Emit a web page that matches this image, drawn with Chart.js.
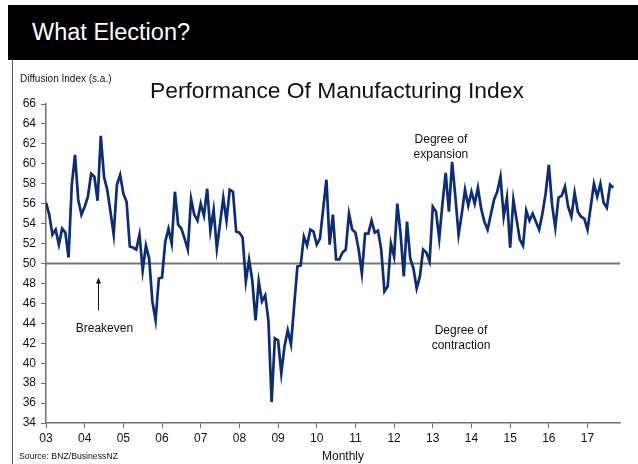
<!DOCTYPE html>
<html>
<head>
<meta charset="utf-8">
<script src="https://cdn.jsdelivr.net/npm/chart.js@4.4.1/dist/chart.umd.min.js"></script>
<style>
  html, body { margin: 0; padding: 0; background: #fff; }
  #wrap { position: relative; width: 638px; height: 464px; overflow: hidden; font-family: "Liberation Sans", Arial, sans-serif; }
  #band { position: absolute; left: 8px; top: 5px; width: 630px; height: 55px; background: #000; }
  #band span { position: absolute; left: 24px; top: 14px; color: #fff; font-size: 23.5px; }
  #frame { position: absolute; left: 12px; top: 60px; width: 1px; height: 404px; background: #555; }
  #unit { position: absolute; left: 20px; top: 73px; font-size: 10px; color: #111; }
  #title { position: absolute; left: 150px; top: 77px; font-size: 22.8px; color: #111; }
  #source { position: absolute; left: 19px; top: 451px; font-size: 8.7px; color: #111; }
  #monthly { position: absolute; left: 322px; top: 449px; font-size: 12px; color: #111; }
  canvas { position: absolute; left: 0; top: 0; }
</style>
</head>
<body>
<div id="wrap">
  <div id="band"><span>What Election?</span></div>
  <div id="frame"></div>
  <canvas id="pmi" width="638" height="464"></canvas>
  <div id="unit">Diffusion Index (s.a.)</div>
  <div id="title">Performance Of Manufacturing Index</div>
  <div id="source">Source: BNZ/BusinessNZ</div>
  <div id="monthly">Monthly</div>
</div>
<script>
/* Performance Of Manufacturing Index, monthly from Jan 2003 */
const START_YEAR = 2003;
const yearTicks = [2003, 2004, 2005, 2006, 2007, 2008, 2009, 2010, 2011, 2012, 2013, 2014, 2015, 2016, 2017];
const yearLabels = ["03", "04", "05", "06", "07", "08", "09", "10", "11", "12", "13", "14", "15", "16", "17"];
const pmiValues = [
  56.1, 54.9, 52.9, 53.4, 51.9, 53.5, 53.1, 50.6, 57.9, 60.9, 56.4, 54.9,
  55.7, 56.7, 59.0, 58.7, 56.3, 62.8, 58.7, 57.4, 55.2, 52.9, 57.9, 58.9,
  57.0, 56.2, 51.7, 51.6, 51.4, 52.9, 49.3, 51.8, 50.5, 46.2, 44.3, 48.5,
  48.6, 52.2, 53.5, 52.0, 57.2, 53.9, 53.5, 52.5, 51.4, 56.5, 54.9, 54.3,
  56.0, 54.8, 57.5, 53.3, 55.4, 51.5, 54.0, 56.6, 54.3, 57.4, 57.2, 53.2,
  53.1, 52.6, 48.2, 50.4, 48.3, 44.3, 48.2, 46.2, 46.8, 44.3, 36.1, 42.5,
  42.3, 39.0, 41.7, 43.3, 41.9, 45.8, 49.7, 49.8, 52.7, 51.8, 53.4, 53.2,
  51.9, 52.5, 55.5, 58.4, 51.9, 54.9, 50.4, 50.4, 51.1, 51.4, 55.0, 53.4,
  53.1, 51.4, 49.0, 53.0, 53.0, 54.3, 53.1, 53.3, 51.4, 47.2, 47.7, 52.0,
  50.7, 56.0, 53.0, 48.7, 54.2, 50.5, 49.5, 47.5, 48.7, 51.4, 51.1, 50.2,
  55.7, 55.2, 52.5, 56.0, 59.1, 55.2, 60.2, 56.7, 52.9, 55.0, 57.4, 55.8,
  57.2, 56.0, 57.6, 55.5, 54.2, 53.4, 54.9, 56.4, 57.2, 58.7, 54.7, 56.6,
  51.6, 56.4, 54.4, 52.4, 51.8, 55.3, 54.3, 55.0, 54.2, 53.4, 55.0, 57.0,
  59.9, 55.9, 53.6, 56.6, 56.8, 57.7, 55.7, 54.7, 57.1, 55.2, 54.7, 54.5,
  53.4, 55.7, 58.0, 56.7, 58.0, 56.1, 55.6, 57.9, 57.6
];
const BREAKEVEN = 50;

const FONT = "'Liberation Sans', Arial, sans-serif";
const AXIS_COLOR = "#707070";
const LINE_COLOR = "#0b2d78";

const notes = [
  { lines: ["Degree of", "expansion"], x: 2013.21, y: 62.4 },
  { lines: ["Degree of", "contraction"], x: 2013.73, y: 43.3 },
  { lines: ["Breakeven"], x: 2004.51, y: 43.5 },
];
const arrow = { x: 2004.34, from: 45.3, to: 48.6 };

const points = pmiValues.map((v, i) => ({ x: START_YEAR + i / 12, y: v }));

const overlay = {
  id: "overlay",
  beforeDatasetsDraw(chart) {
    const { ctx, chartArea, scales } = chart;
    const y50 = scales.y.getPixelForValue(BREAKEVEN);
    ctx.save();
    ctx.strokeStyle = "#767676";
    ctx.lineWidth = 2;
    ctx.beginPath();
    ctx.moveTo(chartArea.left, y50);
    ctx.lineTo(chartArea.right, y50);
    ctx.stroke();
    ctx.restore();
  },
  afterDatasetsDraw(chart) {
    const { ctx, scales } = chart;
    ctx.save();
    ctx.fillStyle = "#111";
    ctx.font = "12px " + FONT;
    ctx.textAlign = "center";
    ctx.textBaseline = "middle";
    notes.forEach((n) => {
      const px = scales.x.getPixelForValue(n.x);
      const py = scales.y.getPixelForValue(n.y);
      n.lines.forEach((line, k) => ctx.fillText(line, px, py + k * 15));
    });
    const ax = Math.round(scales.x.getPixelForValue(arrow.x)) + 0.5;
    const y0 = scales.y.getPixelForValue(arrow.from);
    const y1 = scales.y.getPixelForValue(arrow.to);
    ctx.strokeStyle = "#111";
    ctx.lineWidth = 1;
    ctx.beginPath();
    ctx.moveTo(ax, y0);
    ctx.lineTo(ax, y1 + 5);
    ctx.stroke();
    ctx.beginPath();
    ctx.moveTo(ax, y1);
    ctx.lineTo(ax - 2.5, y1 + 6);
    ctx.lineTo(ax + 2.5, y1 + 6);
    ctx.closePath();
    ctx.fill();
    ctx.restore();
  },
};

new Chart(document.getElementById("pmi"), {
  type: "line",
  data: {
    datasets: [
      {
        data: points,
        borderColor: LINE_COLOR,
        borderWidth: 2.7,
        pointRadius: 0,
        tension: 0,
        fill: false,
      },
    ],
  },
  options: {
    responsive: false,
    animation: false,
    events: [],
    layout: { padding: { left: 0, top: 104, right: 18, bottom: 0 } },
    plugins: { legend: { display: false }, tooltip: { enabled: false } },
    scales: {
      x: {
        type: "linear",
        min: START_YEAR,
        max: 2017.84,
        afterFit: (s) => { s.height = 41; },
        afterBuildTicks: (s) => { s.ticks = yearTicks.map((v) => ({ value: v })); },
        ticks: {
          autoSkip: false,
          maxRotation: 0,
          padding: 3,
          color: "#111",
          font: { family: FONT, size: 12 },
          callback: (v) => yearLabels[yearTicks.indexOf(v)],
        },
        grid: { drawOnChartArea: false, drawTicks: true, tickLength: 5, color: AXIS_COLOR, lineWidth: 1 },
        border: { color: AXIS_COLOR, width: 1.5 },
      },
      y: {
        min: 34,
        max: 66,
        afterFit: (s) => { s.width = 46; },
        ticks: {
          stepSize: 2,
          padding: 5,
          color: "#111",
          font: { family: FONT, size: 12 },
        },
        grid: { drawOnChartArea: false, drawTicks: true, tickLength: 5, color: AXIS_COLOR, lineWidth: 1 },
        border: { color: AXIS_COLOR, width: 1.5 },
      },
    },
  },
  plugins: [overlay],
});
</script>
</body>
</html>
